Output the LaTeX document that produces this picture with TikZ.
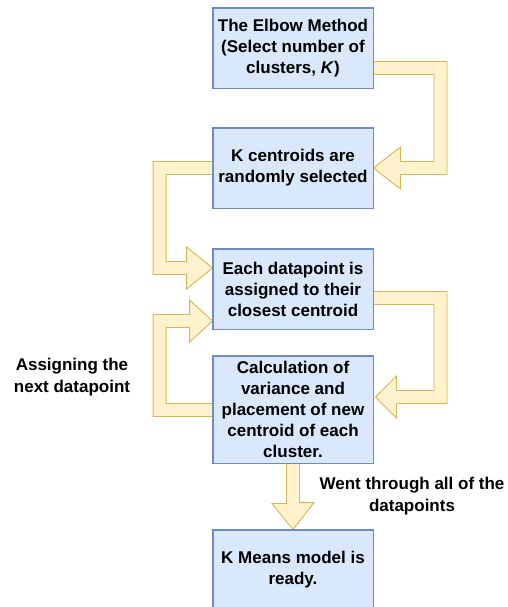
\documentclass[tikz,border=0pt]{standalone}
\usepackage{fontspec}
\setmainfont{Liberation Sans}
\usetikzlibrary{calc}
\definecolor{boxfill}{HTML}{DAE8FC}
\definecolor{boxline}{HTML}{6C8EBF}
\definecolor{arrfill}{HTML}{FFF2CC}
\definecolor{arrline}{HTML}{D6B656}
\tikzset{
  stepbox/.style={draw=boxline, fill=boxfill, line width=0.9pt, minimum width=160pt, minimum height=80pt,
    inner sep=0pt, align=center, font=\fontsize{17}{21}\selectfont\bfseries},
  flex/.style={draw=arrline, fill=arrfill, line width=0.9pt, line join=miter},
  lbl/.style={align=center, inner sep=0pt, font=\fontsize{17}{21.5}\selectfont\bfseries}
}
\begin{document}
\begin{tikzpicture}[x=1pt, y=-1pt]
\clip (0,0) rectangle (507,607);
\fill[white] (0,0) rectangle (507,607);
% nodes (placed first so connectors can refer to them; drawn boxes over arrows via layering below)
\path
  (293,48) node[stepbox] (b1) {The Elbow Method\\(Select number of\\clusters, \textit{K})}
  (293,168) node[stepbox] (b2) {K centroids are\\randomly selected}
  (293,289) node[stepbox] (b3) {Each datapoint is\\assigned to their\\closest centroid}
  (293,409.5) node[stepbox, minimum height=107pt] (b4) {Calculation of\\variance and\\placement of new\\centroid of each\\cluster.}
  (293,570) node[stepbox] (b5) {K Means model is\\ready.};
% arrow 1: b1 -> b2
\draw[flex] ($(b1.east)+(0,13.5)$) -- ++(73.5,0) -- ++(0,113) -- ++(-46.5,0) -- ++(0,14.5)
  -- (b2.east) -- ++(27,-21) -- ++(0,14.5) -- ++(33.5,0) -- ++(0,-87) -- ($(b1.east)+(0,26.5)$) -- cycle;
% arrow 2: b2 -> b3
\draw[flex] ($(b2.west)+(0,-6.5)$) -- ++(-59.5,0) -- ++(0,113) -- ++(33.5,0) -- ++(0,14.5)
  -- ($(b3.west)+(0,-21)$) -- ++(-26,-21) -- ++(0,14.5) -- ++(-20.5,0) -- ++(0,-87) -- ($(b2.west)+(0,6.5)$) -- cycle;
% arrow 3: b3 -> b4
\draw[flex] ($(b3.east)+(0,2.5)$) -- ++(73.5,0) -- ++(0,112) -- ++(-50.5,0) -- ++(0,14.5)
  -- ($(b4.east)+(2,-12.5)$) -- ++(21,-21) -- ++(0,14.5) -- ++(37.5,0) -- ++(0,-86) -- ($(b3.east)+(0,15.5)$) -- cycle;
% arrow 4: b4 -> b3
\draw[flex] ($(b4.west)+(0,7)$) -- ++(-59.5,0) -- ++(0,-102) -- ++(36.5,0) -- ++(0,-14.5)
  -- ($(b3.west)+(0,32)$) -- ++(-23,21) -- ++(0,-14.5) -- ++(-23.5,0) -- ++(0,76) -- ($(b4.west)+(0,-6)$) -- cycle;
% arrow 5: b4 -> b5
\draw[flex] ($(b4.south)+(-6.5,0)$) -- ++(0,40) -- ++(-14.5,0) -- (b5.north) -- ++(21,-27) -- ++(-14.5,0) -- ($(b4.south)+(6.5,0)$) -- cycle;
% redraw boxes on top
\foreach \n in {b1,b2,b3,b4,b5} {
  \draw[draw=boxline, line width=0.9pt] (\n.north west) rectangle (\n.south east);
}
% labels
\node[lbl] (l1) at (72,377) {Assigning the\\next datapoint};
\node[lbl] (l2) at (412,496) {Went through all of the\\datapoints};
\end{tikzpicture}
\end{document}
